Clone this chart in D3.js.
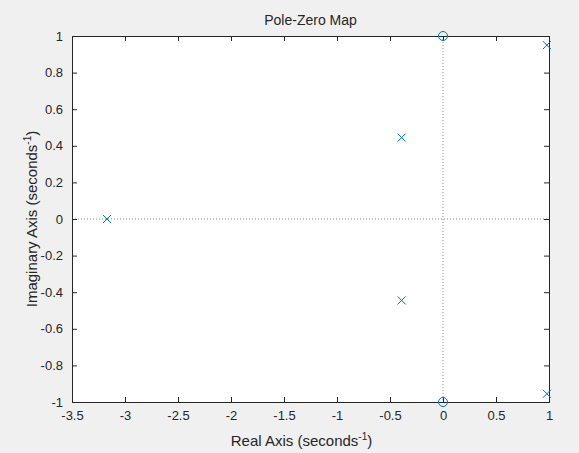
<!DOCTYPE html>
<html><head><meta charset="utf-8">
<script src="https://cdn.jsdelivr.net/npm/d3@7"></script>
<style>body{margin:0;background:#f0f0f0;font-family:"Liberation Sans",Arial,sans-serif}</style>
</head><body><svg id="c" width="579" height="453"></svg>
<script>
var poles = [[-3.17, 0], [-0.39, 0.445], [-0.39, -0.445], [0.98, 0.95], [0.98, -0.955]];
var zeros = [[0, 1], [0, -1]];
var xTicks = [-3.5, -3, -2.5, -2, -1.5, -1, -0.5, 0, 0.5, 1];
var yTicks = [-1, -0.8, -0.6, -0.4, -0.2, 0, 0.2, 0.4, 0.6, 0.8, 1];

var svg = d3.select("#c");
var L = 72, R = 549, T = 36, B = 402;
var x = d3.scaleLinear().domain([-3.5, 1]).range([L, R]);
var y = d3.scaleLinear().domain([-1, 1]).range([B, T]);
var fmt = function (d) { return String(d).replace("-", "\u2212").replace("\u2212", "-"); };

svg.append("rect").attr("x", L).attr("y", T).attr("width", R - L).attr("height", B - T).attr("fill", "#fff");

// dotted zero lines
svg.append("line").attr("x1", L).attr("x2", R).attr("y1", y(0)).attr("y2", y(0))
  .attr("stroke", "#888").attr("stroke-dasharray", "1,2");
svg.append("line").attr("x1", x(0)).attr("x2", x(0)).attr("y1", T).attr("y2", B)
  .attr("stroke", "#888").attr("stroke-dasharray", "1,2");

var xa = svg.append("g").attr("transform", "translate(0," + B + ")")
  .call(d3.axisBottom(x).tickValues(xTicks).tickSize(-5).tickPadding(9).tickFormat(fmt));
var ya = svg.append("g").attr("transform", "translate(" + L + ",0)")
  .call(d3.axisLeft(y).tickValues(yTicks).tickSize(-5).tickPadding(9).tickFormat(fmt));
svg.append("g").attr("transform", "translate(0," + T + ")")
  .call(d3.axisTop(x).tickValues(xTicks).tickSize(-5).tickFormat(""));
svg.append("g").attr("transform", "translate(" + R + ",0)")
  .call(d3.axisRight(y).tickValues(yTicks).tickSize(-5).tickFormat(""));
svg.selectAll(".domain, .tick line").attr("stroke", "#262626");
svg.selectAll(".tick text").attr("fill", "#262626").attr("font-size", 13)
  .attr("font-family", "Liberation Sans, Arial, sans-serif");

svg.selectAll(".pole").data(poles).enter().append("path")
  .attr("d", "M-4,-4L4,4M-4,4L4,-4")
  .attr("transform", function (d) { return "translate(" + x(d[0]) + "," + y(d[1]) + ")"; })
  .attr("stroke", "#0072bd").attr("fill", "none");
svg.selectAll(".zero").data(zeros).enter().append("circle")
  .attr("cx", function (d) { return x(d[0]); }).attr("cy", function (d) { return y(d[1]); })
  .attr("r", 4.5).attr("stroke", "#0072bd").attr("fill", "none");

svg.append("text").attr("x", (L + R) / 2).attr("y", 25).attr("text-anchor", "middle")
  .attr("font-size", 14).attr("fill", "#262626").text("Pole-Zero Map");
var xl = svg.append("text").attr("x", (L + R) / 2 - 9).attr("y", 446).attr("text-anchor", "middle")
  .attr("font-size", 15).attr("fill", "#262626");
xl.append("tspan").text("Real Axis (seconds");
xl.append("tspan").attr("dy", -6).attr("font-size", 10).text("-1");
xl.append("tspan").attr("dy", 6).text(")");
var yl = svg.append("text").attr("transform", "translate(37," + (T + B) / 2 + ") rotate(-90)")
  .attr("text-anchor", "middle").attr("font-size", 15).attr("fill", "#262626");
yl.append("tspan").text("Imaginary Axis (seconds");
yl.append("tspan").attr("dy", -6).attr("font-size", 10).text("-1");
yl.append("tspan").attr("dy", 6).text(")");
</script></body></html>
